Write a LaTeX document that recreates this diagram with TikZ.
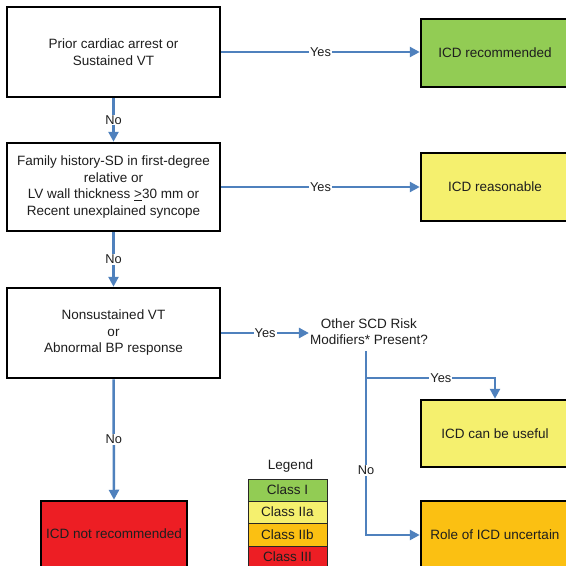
\documentclass[tikz,border=0pt]{standalone}
\usepackage{fontspec}
\setmainfont{Liberation Sans}
\usetikzlibrary{arrows.meta}
\definecolor{cgreen}{RGB}{146,204,84}
\definecolor{cyellow}{RGB}{245,240,110}
\definecolor{corange}{RGB}{251,192,18}
\definecolor{cred}{RGB}{237,30,36}
\definecolor{cblue}{RGB}{79,129,189}
\definecolor{ctext}{RGB}{30,30,30}
\tikzset{
  box/.style={draw=black, line width=2.5pt, align=center, inner sep=0pt,
    text=ctext, font=\fontsize{13.5}{16.5}\selectfont},
  arr/.style={draw=cblue, line width=2.5pt, -{Triangle[length=10pt,width=10pt]}},
  ln/.style={draw=cblue, line width=2.5pt},
  lbl/.style={fill=white, inner sep=1pt, text=ctext, font=\fontsize{12.8}{14}\selectfont},
  leg/.style={draw=black!85, line width=1pt, minimum width=79pt, inner sep=0pt,
    text=ctext, font=\fontsize{13.5}{15}\selectfont},
}
\begin{document}
\begin{tikzpicture}[x=1pt,y=-1pt]
\useasboundingbox (0,0) rectangle (566,566);
\clip (0,0) rectangle (566,566);
\fill[white] (0,0) rectangle (566,566);
% left column
\node[box, minimum width=213pt, minimum height=90pt] (b1) at (113.5,52) {Prior cardiac arrest or\\Sustained VT};
\node[box, minimum width=213pt, minimum height=88pt] (b2) at (113.5,187) {Family history-SD in first-degree\\relative or\\LV wall thickness \underline{>}30 mm or\\Recent unexplained syncope};
\node[box, minimum width=213pt, minimum height=90pt] (b3) at (113.5,333) {Nonsustained VT\\or\\Abnormal BP response};
\node[box, fill=cred, minimum width=146pt, minimum height=66pt] (nr) at (114,534) {ICD not recommended};
% right column
\node[box, fill=cgreen, minimum width=148pt, minimum height=68pt] (rec) at (495,53) {ICD recommended};
\node[box, fill=cyellow, minimum width=148pt, minimum height=68pt] (rea) at (495,187) {ICD reasonable};
\node[box, fill=cyellow, minimum width=148pt, minimum height=67pt] (use) at (495,433.5) {ICD can be useful};
\node[box, fill=corange, minimum width=148pt, minimum height=68pt] (unc) at (495,535) {Role of ICD uncertain};
% question
\node[align=center, inner sep=1pt, text=ctext, font=\fontsize{13.5}{16}\selectfont] (q) at (369,332) {Other SCD Risk\\Modifiers* Present?};
\coordinate (qd) at (366,351);
\coordinate (qb) at (366,378);
\coordinate (qc) at (366,535);
\coordinate (qy) at (495,378);
% connectors
\draw[arr] (b1.east) -- node[lbl]{Yes} (b1.east -| rec.west);
\draw[arr] (b2.east) -- node[lbl]{Yes} (b2.east -| rea.west);
\draw[arr] (b1.south) -- node[lbl]{No} (b2.north);
\draw[arr] (b2.south) -- node[lbl]{No} (b3.north);
\draw[arr] (b3.south) -- node[lbl]{No} (nr.north);
\draw[arr] (b3.east) -- node[lbl]{Yes} (b3.east -| q.west);
\draw[arr] (qd) -- node[lbl, pos=0.65]{No} (qc) -- (qc -| unc.west);
\draw[arr] (qb) -- node[lbl, pos=0.58]{Yes} (qy) -- (use.north);
% legend
\node[text=ctext, font=\fontsize{13.5}{15}\selectfont] (lt) at (290.5,466) {Legend};
\node[leg, fill=cgreen, minimum height=22pt] (l1) at (287.5,490) {Class I};
\node[leg, fill=cyellow, minimum height=22pt] (l2) at (287.5,512) {Class IIa};
\node[leg, fill=corange, minimum height=23pt] (l3) at (287.5,534.5) {Class IIb};
\node[leg, fill=cred, minimum height=22pt] (l4) at (287.5,557) {Class III};
\end{tikzpicture}
\end{document}
